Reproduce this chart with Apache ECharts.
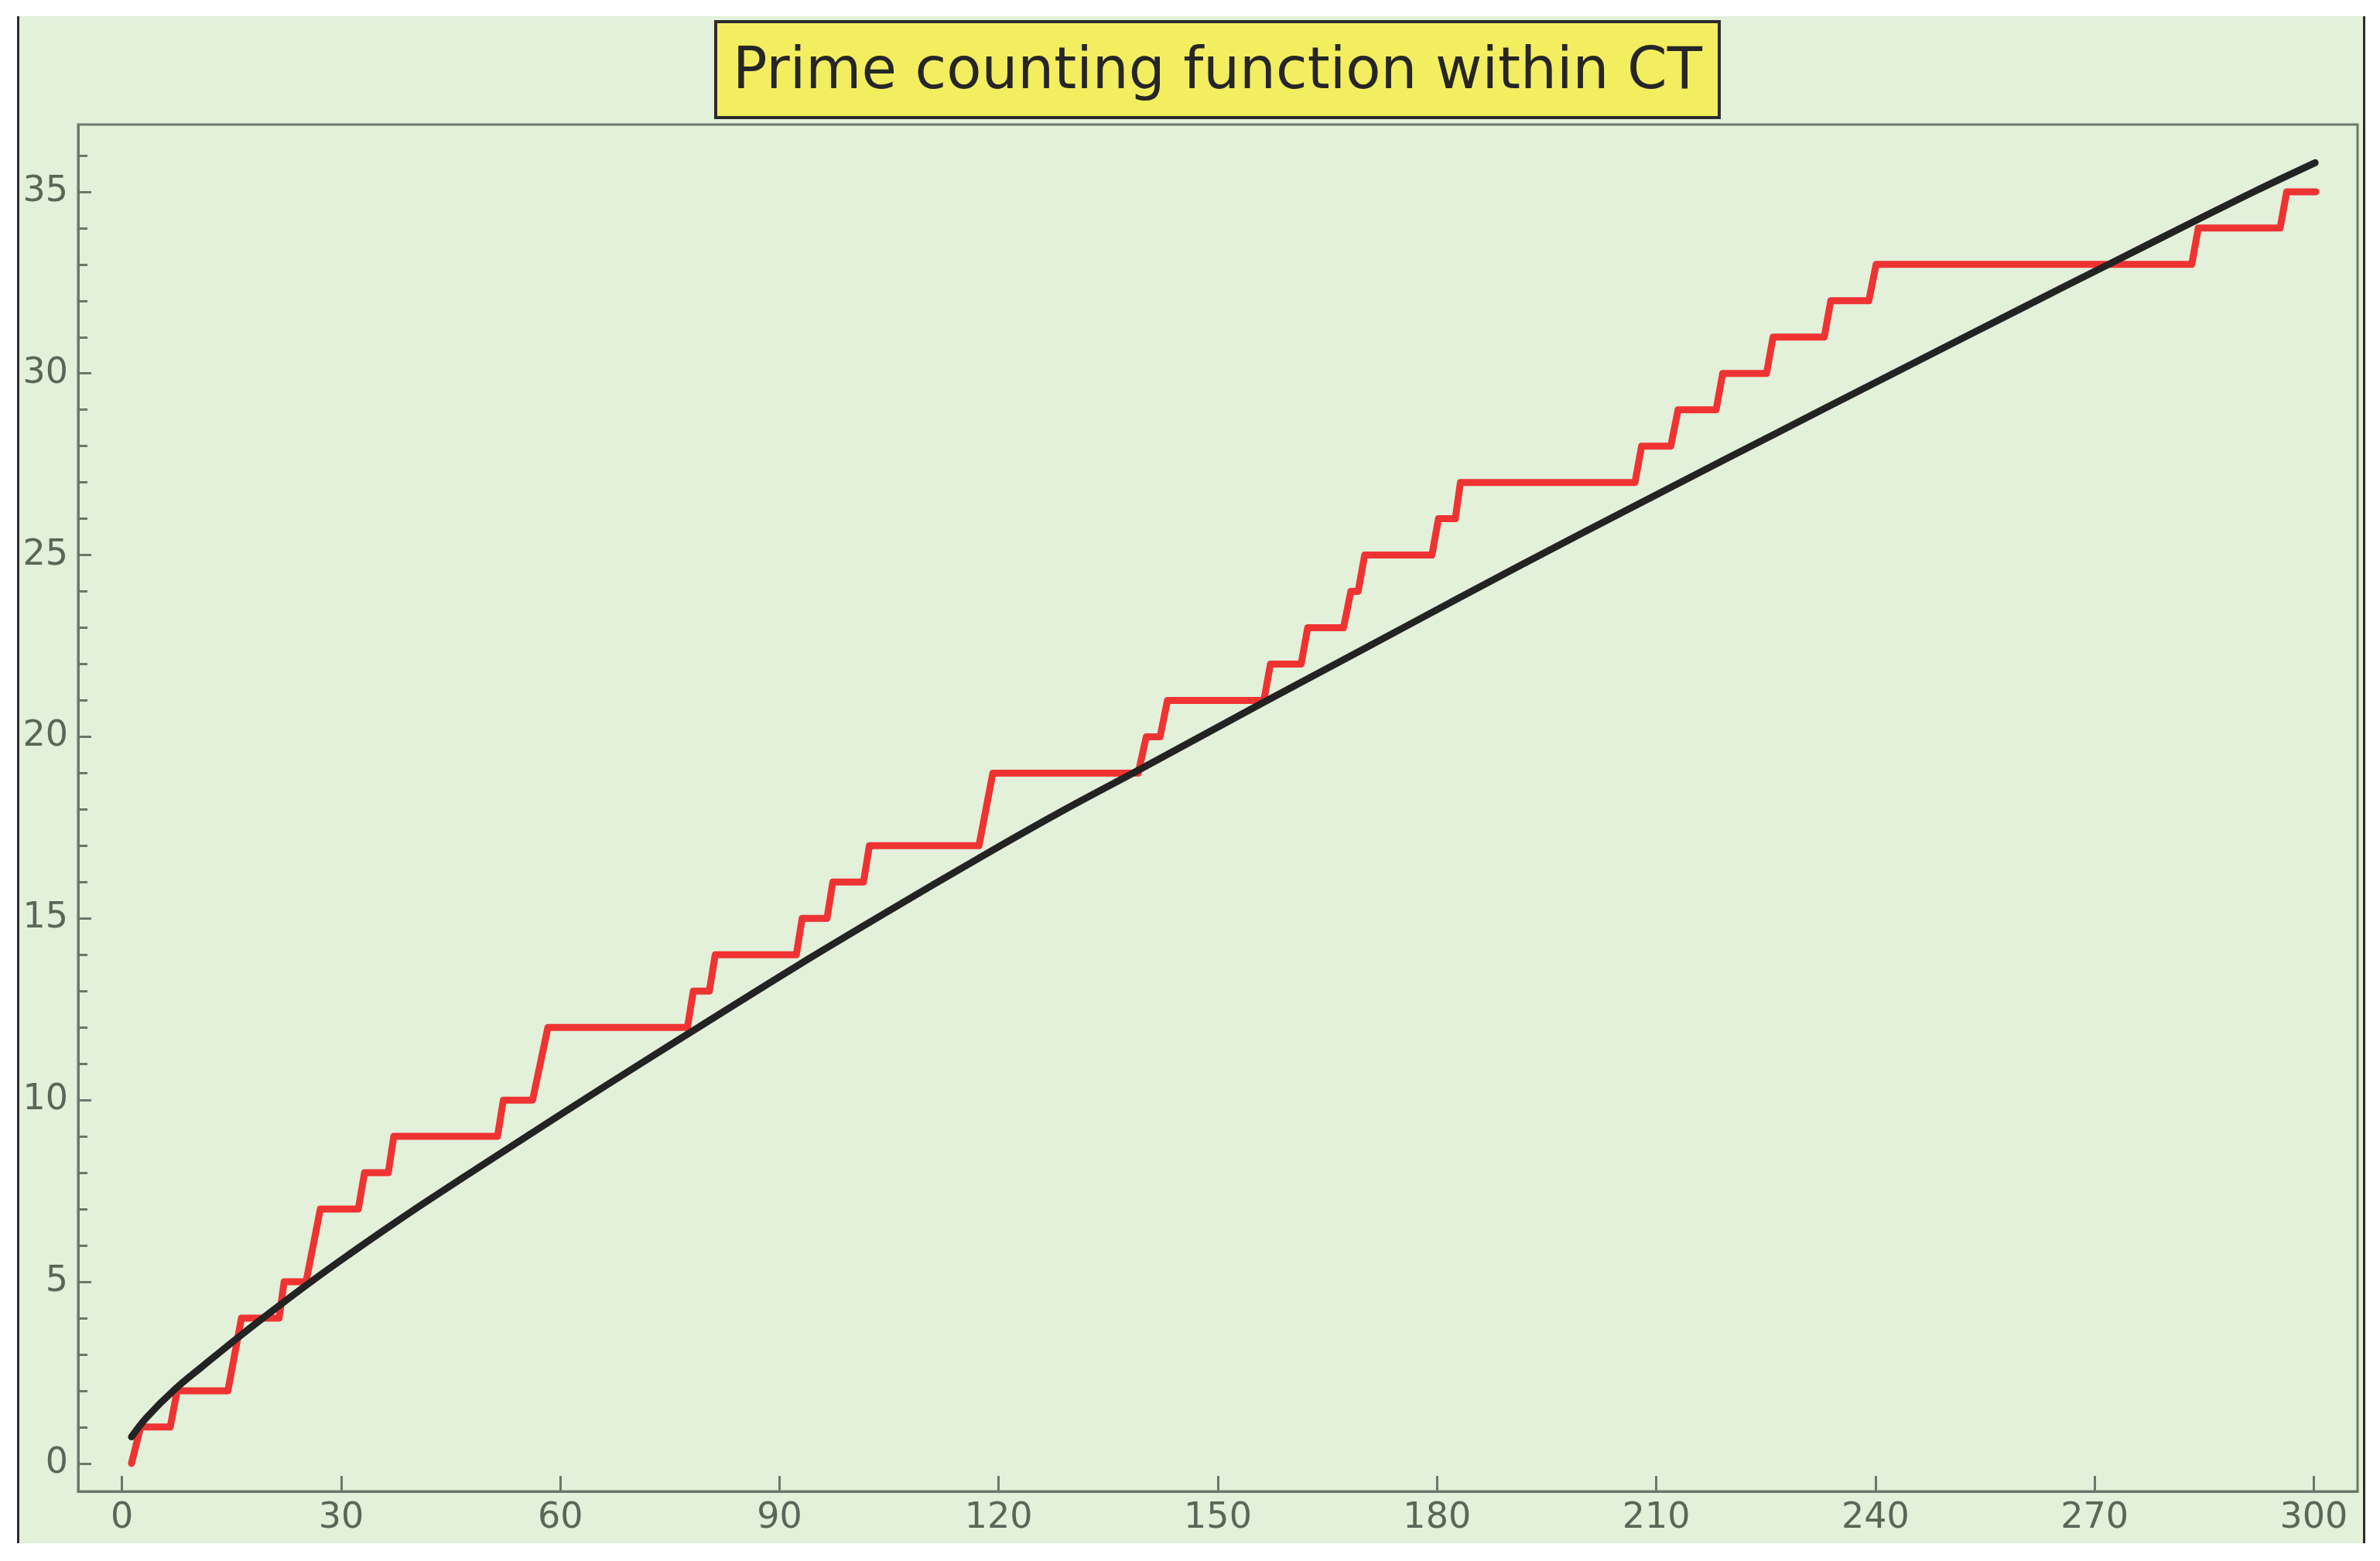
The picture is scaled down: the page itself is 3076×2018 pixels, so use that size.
<!DOCTYPE html>
<html>
<head>
<meta charset="utf-8">
<script src="https://cdn.jsdelivr.net/npm/echarts@6/dist/echarts.min.js"></script>
<style>
  html, body { margin: 0; padding: 0; background: #ffffff; }
  #chart { width: 3076px; height: 2018px; }
</style>
</head>
<body>
<div id="chart"></div>
<script>
// ---- Data ----
// Red step line: corner points (x, count)
const stepX = [1.3, 2.55, 6.6, 7.55, 14.5, 16.35, 21.5, 22.2, 25.2, 27.15, 32.35, 33.2, 36.45, 37.2,
  51.4, 52.2, 56.2, 58.3, 77.4, 78.2, 80.4, 81.2, 92.3, 93.1, 96.5, 97.3, 101.5, 102.3,
  117.3, 119.2, 139.1, 140.2, 142.1, 143.1, 156.3, 157.2, 161.4, 162.3, 167.2, 168.2,
  169.2, 170.1, 179.3, 180.2, 182.5, 183.2, 207.1, 208.0, 212.0, 213.0, 218.2, 219.1,
  225.1, 226.0, 233.0, 233.9, 239.1, 240.1, 283.3, 284.2, 295.4, 296.3, 300.3];
const stepY = [0, 1, 1, 2, 2, 4, 4, 5, 5, 7, 7, 8, 8, 9,
  9, 10, 10, 12, 12, 13, 13, 14, 14, 15, 15, 16, 16, 17,
  17, 19, 19, 20, 20, 21, 21, 22, 22, 23, 23, 24,
  24, 25, 25, 26, 26, 27, 27, 28, 28, 29, 29, 30,
  30, 31, 31, 32, 32, 33, 33, 34, 34, 35, 35];

const curveX = [1.3, 3.4, 7.3, 11.2, 16.1, 21.1, 26.0, 31.0, 36.3, 41.6, 51.4, 60.0, 71.2,
  80.0, 92.3, 105.0, 117.3, 128.0, 139.5, 156.3, 170.0, 183.2, 200.0, 219.5, 233.0,
  246.0, 259.0, 272.3, 283.4, 292.0, 300.2];
const curveY = [0.73, 1.27, 2.05, 2.70, 3.50, 4.28, 5.02, 5.74, 6.48, 7.20, 8.48, 9.60, 11.03,
  12.14, 13.68, 15.21, 16.66, 17.88, 19.12, 20.95, 22.42, 23.84, 25.62, 27.64, 29.03,
  30.36, 31.69, 33.04, 34.16, 35.02, 35.80];

// Tick values
const xTicks = [0, 30, 60, 90, 120, 150, 180, 210, 240, 270, 300];
const yTicks = [0, 5, 10, 15, 20, 25, 30, 35];
const yMinorTicks = [0, 1, 2, 3, 4, 5, 6, 7, 8, 9, 10, 11, 12, 13, 14, 15, 16, 17, 18, 19,
  20, 21, 22, 23, 24, 25, 26, 27, 28, 29, 30, 31, 32, 33, 34, 35, 36];

const titleText = 'Prime counting function within CT';

// ---- Build ----
const stepData = stepX.map((x, i) => [x, stepY[i]]);
const curveData = curveX.map((x, i) => [x, curveY[i]]);

const GREEN = '#e3f0da';
const AXIS = '#6c776a';
const LABEL = '#5a6758';
const FONT = 'DejaVu Sans';

const chart = echarts.init(document.getElementById('chart'), null, { renderer: 'canvas' });

const option = {
  animation: false,
  backgroundColor: '#ffffff',
  graphic: [
    { type: 'rect', z: -100, silent: true,
      shape: { x: 22, y: 21, width: 3035, height: 1974 },
      style: { fill: GREEN } },
    { type: 'line', z: 100, silent: true,
      shape: { x1: 23.5, y1: 21, x2: 23.5, y2: 1995 },
      style: { stroke: '#2c2c2c', lineWidth: 3 } },
    { type: 'line', z: 100, silent: true,
      shape: { x1: 3055.5, y1: 21, x2: 3055.5, y2: 1995 },
      style: { stroke: '#2c2c2c', lineWidth: 3 } }
  ],
  title: {
    text: titleText,
    left: 925,
    top: 28,
    padding: [22, 22, 12, 22],
    backgroundColor: '#f3ee60',
    borderColor: '#2b2b2b',
    borderWidth: 4,
    textStyle: {
      fontFamily: FONT,
      fontSize: 74,
      fontWeight: 'normal',
      color: '#262626',
      lineHeight: 90
    }
  },
  grid: {
    left: 101,
    top: 161,
    right: 29,
    bottom: 90,
    show: true,
    backgroundColor: GREEN,
    borderColor: AXIS,
    borderWidth: 3
  },
  xAxis: {
    type: 'value',
    min: -6,
    max: 306,
    axisLine: { show: true, onZero: false, lineStyle: { color: AXIS, width: 3 } },
    axisTick: { show: true, inside: true, length: 20, customValues: xTicks,
      lineStyle: { color: AXIS, width: 3 } },
    axisLabel: { show: true, customValues: xTicks, margin: 12,
      fontFamily: FONT, fontSize: 46, color: LABEL },
    splitLine: { show: false }
  },
  yAxis: [
    {
      type: 'value',
      position: 'left',
      offset: 0,
      min: -0.77,
      max: 36.85,
      axisLine: { show: true, onZero: false, lineStyle: { color: AXIS, width: 3 } },
      axisTick: { show: true, inside: true, length: 17, customValues: yTicks,
        lineStyle: { color: AXIS, width: 3 } },
      axisLabel: { show: true, customValues: yTicks, margin: 13,
        fontFamily: FONT, fontSize: 46, color: LABEL },
      splitLine: { show: false }
    },
    {
      type: 'value',
      position: 'left',
      offset: 0,
      min: -0.77,
      max: 36.85,
      axisLine: { show: false, onZero: false },
      axisTick: { show: true, inside: true, length: 12, customValues: yMinorTicks,
        lineStyle: { color: AXIS, width: 3 } },
      axisLabel: { show: false },
      splitLine: { show: false }
    }
  ],
  series: [
    {
      name: 'count',
      type: 'line',
      xAxisIndex: 0,
      yAxisIndex: 0,
      data: stepData,
      showSymbol: false,
      symbol: 'none',
      lineStyle: { color: '#ef3333', width: 9, cap: 'round', join: 'round' },
      z: 3
    },
    {
      name: 'estimate',
      type: 'line',
      xAxisIndex: 0,
      yAxisIndex: 0,
      data: curveData,
      smooth: 0.4,
      showSymbol: false,
      symbol: 'none',
      lineStyle: { color: '#232323', width: 9, cap: 'round', join: 'round' },
      z: 4
    }
  ]
};

chart.setOption(option);
</script>
</body>
</html>
